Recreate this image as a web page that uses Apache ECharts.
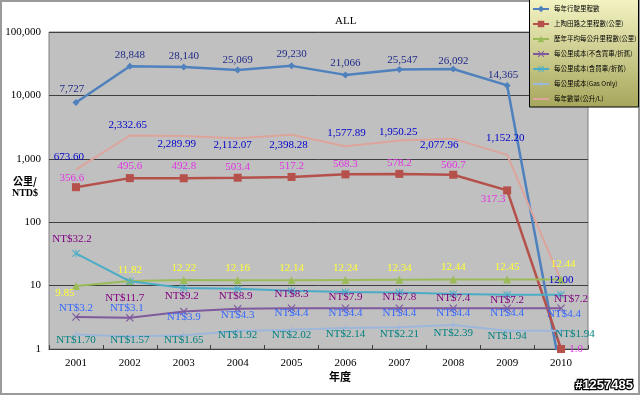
<!DOCTYPE html>
<html>
<head>
<meta charset="utf-8">
<script src="https://cdn.jsdelivr.net/npm/echarts@6/dist/echarts.min.js"></script>
<style>html,body{margin:0;padding:0;background:#fff;}#c{width:640px;height:395px;}</style>
</head>
<body>
<div id="c"></div>
<script>
// ---- data ----
const years = ['2001','2002','2003','2004','2005','2006','2007','2008','2009','2010'];
const mileage = [7727, 28848, 28140, 25069, 29230, 21066, 25547, 26092, 14365, 0.4];
const routeKm = [356.6, 495.6, 492.8, 503.4, 517.2, 568.3, 578.2, 560.7, 317.3, 1.0];
const kmPerLitre = [9.85, 11.82, 12.22, 12.16, 12.14, 12.24, 12.34, 12.44, 12.45, 12.44];
const costExclCar = [3.2, 3.1, 3.9, 4.3, 4.4, 4.4, 4.4, 4.4, 4.4, 4.4];
const costInclCar = [32.2, 11.7, 9.2, 8.9, 8.3, 7.9, 7.8, 7.4, 7.2, 7.2];
const costGasOnly = [1.70, 1.57, 1.65, 1.92, 2.02, 2.14, 2.21, 2.39, 1.94, 1.94];
const litresPerYear = [673.60, 2332.65, 2289.99, 2112.07, 2398.28, 1577.89, 1950.25, 2077.96, 1152.20, 12.00];
const seriesNames = ['每年行駛里程數','上陶田路之里程數(公里)','歷年平均每公升里程數(公里)','每公里成本(不含買車/折舊)','每公里成本(含買車/折舊)','每公里成本(Gas Only)','每年數量(公升/L)'];

// ---- label offsets (style) ----
const offMileage = [[-4,-13],[0,-11],[0,-11],[0,-10],[0,-12],[0,-12],[3,-9],[0,-8],[-4,-10],null];
const offRoute = [[-4,-9],[0,-12],[0,-12],[0,-11],[0,-11],[0,-10],[0,-11],[0,-10],[-14,9],[15,0]];
const offKmL = [[-11,7],[0,-11],[0,-12],[0,-12],[0,-12],[0,-12],[0,-12],[0,-12],[0,-12],[2,-15]];
const offExcl = [[0,-9],[-3,-10],[0,6],[0,6],[0,5],[0,5],[0,5],[0,5],[0,5],[3,6]];
const offIncl = [[-4,-14],[-5,17],[-2,8],[-2,7],[0,3],[0,5],[0,5],[0,4],[0,5],[10,4]];
const offGas = [[0,6],[0,4],[0,5],[0,4],[0,5],[0,6],[0,7],[0,8],[0,5],[14,3]];
const offLitres = [[-7,-13],[-2,-10],[-7,8],[-5,7],[-3,10],[1,-13],[-1,-8],[-14,6],[-2,-17],[0,0]];

const comma = (v, d) => v.toLocaleString('en-US', {minimumFractionDigits: d, maximumFractionDigits: d});
const SERIF = 'Liberation Serif, Noto Sans CJK TC, serif';

const X_PATH = 'path://M0,1L1,0L5,4L9,0L10,1L6,5L10,9L9,10L5,6L1,10L0,9L4,5Z';
const STAR_PATH = 'path://M0,1.5L1,0.5L4.5,4V0H5.5V4L9,0.5L10,1.5L6,5L10,8.5L9,9.5L5.5,6V10H4.5V6L1,9.5L0,8.5L4,5Z';
const PLUS_PATH = 'path://M4.4,0H5.6V4.4H10V5.6H5.6V10H4.4V5.6H0V4.4H4.4Z';

function mk(name, values, color, symbol, symbolSize, labelColor, fmt, offs, width, hideSymbol) {
  return {
    name: name, type: 'line', data: values.map((v, i) => ({
      value: v,
      label: offs[i] ? {offset: offs[i]} : {show: false}
    })),
    symbol: symbol, symbolSize: symbolSize, showSymbol: true,
    clip: true,
    lineStyle: {color: color, width: width},
    itemStyle: {color: hideSymbol ? 'rgba(0,0,0,0)' : color},
    emphasis: {disabled: true},
    label: {show: true, position: 'inside', color: labelColor, fontFamily: SERIF, fontSize: 11,
      formatter: p => fmt(p.value)},
    animation: false
  };
}

const chart = echarts.init(document.getElementById('c'), null, {renderer: 'canvas'});
chart.setOption({
  animation: false,
  backgroundColor: '#ffffff',
  grid: {left: 49, right: 52, top: 32, bottom: 46, show: true, backgroundColor: '#C0C0C0', borderColor: '#7f7f7f', borderWidth: 1},
  legend: {
    orient: 'vertical', left: 532, top: 5, padding: 0, itemWidth: 16, itemHeight: 8, itemGap: 7, z: 10,
    textStyle: {fontSize: 6.5, fontFamily: 'Noto Sans CJK TC', color: '#000', lineHeight: 8},
    data: seriesNames
  },
  xAxis: {
    type: 'category', data: years, boundaryGap: true,
    axisLine: {show: true, lineStyle: {color: '#404040'}},
    axisTick: {show: true, inside: true, length: 4, lineStyle: {color: '#404040'}},
    axisLabel: {color: '#000', fontFamily: SERIF, fontSize: 11, margin: 9},
    splitLine: {show: false}
  },
  yAxis: {
    type: 'log', logBase: 10, min: 1, max: 100000,
    axisLine: {show: false}, axisTick: {show: false},
    axisLabel: {color: '#000', fontFamily: SERIF, fontSize: 11, margin: 8, formatter: v => comma(v, 0)},
    splitLine: {show: true, lineStyle: {color: '#3f3f3f', width: 1}}
  },
  graphic: [
    {type: 'rect', shape: {x: 1, y: 1, width: 638, height: 393}, style: {fill: 'none', stroke: '#9a9a9a', lineWidth: 2}, z: 1, silent: true},
    {type: 'rect', shape: {x: 529.5, y: -1, width: 109, height: 108}, z: 5, silent: true,
      style: {stroke: '#000', lineWidth: 1,
        fill: new echarts.graphic.LinearGradient(0, 0, 0, 1, [{offset: 0, color: '#F4F4C4'}, {offset: 1, color: '#A6A65C'}])}},
    {type: 'text', left: 335, top: 16, z: 6, style: {text: 'ALL', font: '11px Liberation Serif', fill: '#000'}},
    {type: 'text', x: 25, y: 181, z: 6, style: {text: '公里/', font: 'bold 10px Noto Sans CJK TC', fill: '#000', align: 'center', verticalAlign: 'middle'}},
    {type: 'text', x: 25, y: 193, z: 6, style: {text: 'NTD$', font: 'bold 10px Liberation Serif', fill: '#000', align: 'center', verticalAlign: 'middle'}},
    {type: 'text', x: 340, y: 377, z: 6, style: {text: '年度', font: 'bold 11px Noto Sans CJK TC', fill: '#000', align: 'center', verticalAlign: 'middle'}},
    {type: 'text', x: 633, y: 385, z: 6, style: {text: '#1257485', font: 'bold 13px Liberation Sans', fill: '#fff', stroke: '#000', lineWidth: 2.5, align: 'right', verticalAlign: 'middle'}}
  ],
  series: [
    mk(seriesNames[0], mileage, '#4F81BD', 'diamond', 7, '#1f2a86', v => comma(v, 0), offMileage, 2.5),
    mk(seriesNames[1], routeKm, '#B5504B', 'rect', 8, '#E233E2', v => v.toFixed(1), offRoute, 2.5),
    mk(seriesNames[2], kmPerLitre, '#9BBB59', 'triangle', 8, '#FFFF33', v => v.toFixed(2), offKmL, 2),
    mk(seriesNames[3], costExclCar, '#7F5A9E', X_PATH, 8, '#3366FF', v => 'NT$' + v.toFixed(1), offExcl, 2),
    mk(seriesNames[4], costInclCar, '#4BACC6', STAR_PATH, 8, '#800080', v => 'NT$' + v.toFixed(1), offIncl, 2),
    mk(seriesNames[5], costGasOnly, '#9DB6DB', PLUS_PATH, 7, '#008080', v => 'NT$' + v.toFixed(2), offGas, 2),
    mk(seriesNames[6], litresPerYear, '#DDA49C', 'circle', 2, '#0000CC', v => comma(v, 2), offLitres, 2, true)
  ]
});
</script>
</body>
</html>
